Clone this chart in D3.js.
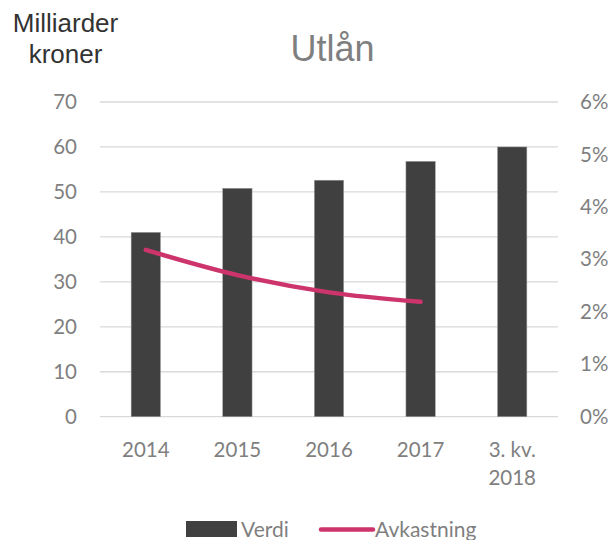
<!DOCTYPE html>
<html><head><meta charset="utf-8">
<script src="https://cdn.jsdelivr.net/npm/d3@7"></script>
<style>body{margin:0;background:#fff}</style>
</head><body>
<svg id="c" width="613" height="540"></svg>
<script>
const categories = ["2014","2015","2016","2017","3. kv. 2018"];
const verdi = [41, 50.8, 52.6, 56.8, 60];
const avkastning = [3.18, 2.7, 2.37, 2.19, null];
const leftTicks = [0,10,20,30,40,50,60,70];
const rightTicks = [0,0.01,0.02,0.03,0.04,0.05,0.06];

const svg = d3.select("#c");
const x0 = 100, x1 = 558, yTop = 102, yBot = 416.7;
const x = d3.scaleBand().domain(categories).range([x0,x1]).paddingInner(0.68).paddingOuter(0.34);
const yL = d3.scaleLinear().domain([0,70]).range([yBot,yTop]);
const yR = d3.scaleLinear().domain([0,0.06]).range([yBot,yTop]);
const tickFont = "Lato, 'Open Sans', sans-serif";
const grey = "#7f7f7f";
const tickSize = 20.5;

// gridlines
svg.append("g").selectAll("line").data(leftTicks).join("line")
  .attr("x1",x0).attr("x2",x1).attr("y1",d=>yL(d)).attr("y2",d=>yL(d))
  .attr("stroke","#d9d9d9").attr("stroke-width",1.3);

// left axis
const gl = svg.append("g").attr("transform",`translate(${x0},0)`)
  .call(d3.axisLeft(yL).tickValues(leftTicks).tickSize(0).tickPadding(23));
gl.select(".domain").remove();
gl.selectAll("text").attr("font-family",tickFont).attr("font-size",tickSize).attr("fill",grey);

// right axis
const gr = svg.append("g").attr("transform",`translate(${x1},0)`)
  .call(d3.axisRight(yR).tickValues(rightTicks).tickFormat(d3.format(".0%")).tickSize(0).tickPadding(22));
gr.select(".domain").remove();
gr.selectAll("text").attr("font-family",tickFont).attr("font-size",tickSize).attr("fill",grey);

// bars
svg.append("g").selectAll("rect").data(categories).join("rect")
  .attr("x",d=>x(d)).attr("width",x.bandwidth())
  .attr("y",(d,i)=>yL(verdi[i])).attr("height",(d,i)=>yBot-yL(verdi[i]))
  .attr("fill","#404040").attr("stroke","#9a9a9a").attr("stroke-width",0.5);

// line
const pts = categories.map((c,i)=>[x(c)+x.bandwidth()/2, avkastning[i]]).filter(p=>p[1]!=null);
svg.append("path").datum(pts)
  .attr("d", d3.line().x(p=>p[0]).y(p=>yR(p[1]/100)).curve(d3.curveCatmullRom.alpha(0.5)))
  .attr("fill","none").attr("stroke","#cc346b").attr("stroke-width",4.5).attr("stroke-linecap","round");

// x labels
const xl = svg.append("g");
categories.forEach((c,i)=>{
  const cx = x(c)+x.bandwidth()/2;
  const parts = c === "3. kv. 2018" ? ["3. kv.","2018"] : [c];
  parts.forEach((p,j)=>{
    xl.append("text").attr("x",cx).attr("y",456.5+j*28.5).attr("text-anchor","middle")
      .attr("font-family",tickFont).attr("font-size",tickSize).attr("fill",grey).text(p);
  });
});

// title
svg.append("text").attr("x",332.5).attr("y",61).attr("text-anchor","middle")
  .attr("font-family","'Liberation Sans', Arial, sans-serif").attr("font-size",36).attr("fill","#7f7f7f").text("Utlån");

// y-axis unit label
svg.append("text").attr("x",65.5).attr("y",31.5).attr("text-anchor","middle")
  .attr("font-family","'Liberation Sans', Arial, sans-serif").attr("font-size",26).attr("fill","#333333").text("Milliarder");
svg.append("text").attr("x",65.5).attr("y",63).attr("text-anchor","middle")
  .attr("font-family","'Liberation Sans', Arial, sans-serif").attr("font-size",26).attr("fill","#333333").text("kroner");

// legend
const lg = svg.append("g");
lg.append("rect").attr("x",186).attr("y",521).attr("width",51).attr("height",16).attr("fill","#404040");
lg.append("text").attr("x",241).attr("y",536.5).attr("font-family",tickFont).attr("font-size",21).attr("fill",grey).text("Verdi");
lg.append("line").attr("x1",321).attr("x2",373).attr("y1",529.5).attr("y2",529.5)
  .attr("stroke","#cc346b").attr("stroke-width",4.5).attr("stroke-linecap","round");
lg.append("text").attr("x",375).attr("y",536.5).attr("font-family",tickFont).attr("font-size",21).attr("fill",grey).text("Avkastning");
</script>
</body></html>
